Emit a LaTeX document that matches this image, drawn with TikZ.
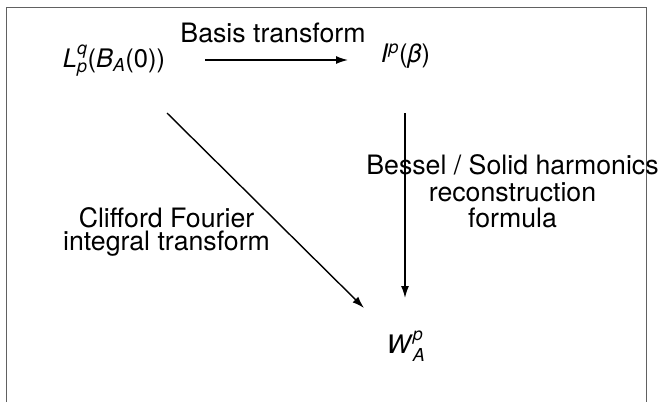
\documentclass[tikz,border=0pt]{standalone}
\usepackage{amsmath}
\usepackage{fontspec}
\setmainfont{TeX Gyre Heros}
\usetikzlibrary{arrows.meta}
\begin{document}
\begin{tikzpicture}[x=1bp,y=1bp,
  frame/.style={draw=black!62,line width=1bp},
  arr/.style={draw=black,line width=1.4bp,-{Latex[length=12bp,width=8bp]}},
  lbl/.style={inner sep=0pt,font=\fontsize{26.7bp}{26.5bp}\selectfont,align=center},
  term/.style={inner sep=0pt,font=\fontsize{25.5bp}{28bp}\selectfont}]
\useasboundingbox (0,0) rectangle (658,-402);
\draw[frame] (6,-402) -- (6,-7) -- (646,-7) -- (646,-402);
\node[term,anchor=base] (L) at (114,-67) {\textit{L}$^{\textit{q}}_{\textit{p}}$(\textit{B}$_{\textit{A}}$(0))};
\node[term,anchor=base] (I) at (405.5,-62) {\textit{I}$^{\textit{p}}$(\textit{β})};
\node[term,anchor=base] (W) at (406,-353) {\textit{W}$^{\textit{p}}_{\textit{A}}$};
\node[lbl,anchor=base] (basis) at (273,-42) {Basis transform};
\node[lbl] (bessel) at (512.5,-191.7) {Bessel / Solid harmonics\\reconstruction\\formula};
\node[lbl,font=\fontsize{26.7bp}{22.5bp}\selectfont] (clif) at (166.5,-232) {Clifford Fourier\\integral transform};
\coordinate (h1) at (205,-60);
\coordinate (h2) at (348,-60);
\coordinate (d1) at (167,-113);
\coordinate (d2) at (364,-308);
\coordinate (v1) at (405,-113);
\coordinate (v2) at (405,-298);
\draw[arr] (h1) -- (h2);
\draw[arr] (d1) -- (d2);
\draw[arr] (v1) -- (v2);
\end{tikzpicture}
\end{document}
